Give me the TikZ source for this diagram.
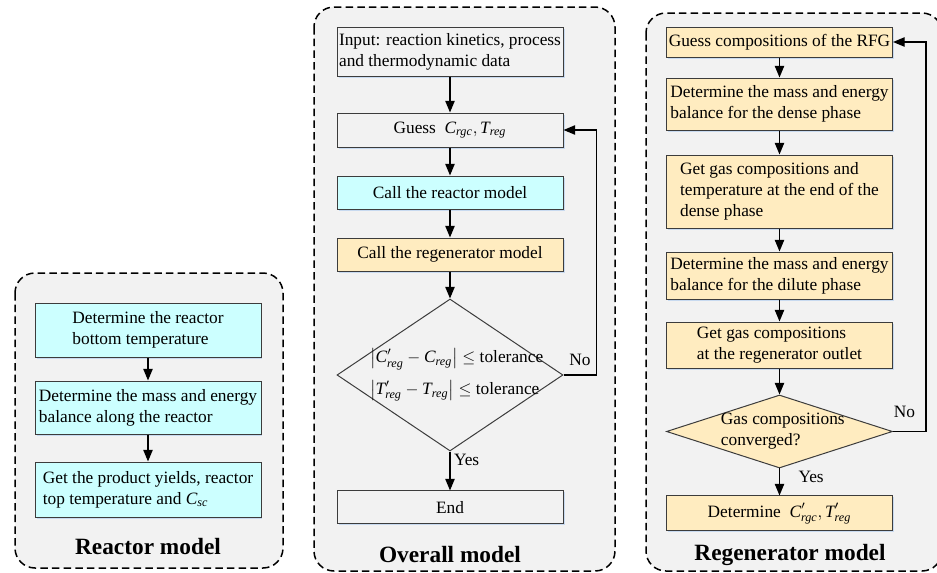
\documentclass[tikz,border=0pt]{standalone}
\usepackage{amsmath}
\usepackage{fontspec}
\setmainfont{Liberation Serif}
\usetikzlibrary{
  arrows.meta,
  positioning,
  shapes.geometric,
  shadows
}
\definecolor{PanelGray}{RGB}{242,242,242}
\definecolor{ReactorCyan}{RGB}{204,255,255}
\definecolor{RegenYellow}{RGB}{255,236,192}
\definecolor{ShadowBlue}{RGB}{200,218,240}
\definecolor{EdgeGray}{RGB}{60,60,60}
\newcommand{\bodyfont}{\fontsize{10.4}{12.7}\selectfont}
\newcommand{\titlefont}{\fontsize{14}{16}\selectfont\bfseries}
\tikzset{
  panel/.style={draw=black,fill=PanelGray,dash pattern=on 4.5pt off 2.5pt,line width=0.9pt,rounded corners=12pt},
  flowbox/.style={draw=EdgeGray,line width=0.6pt,align=left,inner sep=0pt,minimum width=135.6pt,font=\bodyfont,drop shadow={shadow xshift=0.9pt,shadow yshift=-0.9pt,fill=ShadowBlue,opacity=1}},
  plainbox/.style={flowbox,fill=PanelGray},
  reactbox/.style={flowbox,fill=ReactorCyan},
  regenbox/.style={flowbox,fill=RegenYellow},
  decision/.style={diamond,draw=EdgeGray,line width=0.6pt,inner sep=0pt,minimum width=135.6pt},
  flow/.style={-{Triangle[length=7pt,width=5.6pt]},line width=0.8pt},
  branch/.style={font=\bodyfont,inner sep=2pt},
  paneltitle/.style={font=\titlefont}
}

\begin{document}
\begin{tikzpicture}[x=0.6pt,y=-0.6pt]
\useasboundingbox (0,0) rectangle (937,573);
\clip (0,0) rectangle (937,573);

% panels
\draw[panel] (15,273) rectangle (283,568);
\draw[panel] (314,7) rectangle (615,571);
\draw[panel] (646,13) rectangle (942,571);

% reactor model
\node[reactbox, minimum height=32.4pt] (r1) at (148,330) {Determine the reactor\\bottom temperature};
\node[reactbox, minimum height=31.8pt, below=13.8pt of r1] (r2) {Determine the mass and energy\\balance along the reactor};
\node[reactbox, minimum height=33pt, below=16.2pt of r2] (r3) {Get the product yields, reactor\\top temperature and $\textit{C}_{\textit{sc}}$};
\node[paneltitle] (rtitle) at (148,547) {Reactor model};

\draw[flow] (r1) -- (r2);
\draw[flow] (r2) -- (r3);

% overall model
\node[plainbox, minimum height=29.4pt] (o1) at (450,51.5) {Input: reaction kinetics, process\\and thermodynamic data};
\node[plainbox, minimum height=20.4pt, below=21.6pt of o1] (o2) {Guess\ \ $\textit{C}_{\textit{rgc}},\textit{T}_{\textit{reg}}$};
\node[reactbox, minimum height=19.8pt, below=16.8pt of o2] (o3) {Call the reactor model};
\node[regenbox, minimum height=19.8pt, below=16.8pt of o3] (o4) {Call the regenerator model};
\node[decision, minimum height=91.2pt, below=16.2pt of o4] (o5) {};
\node[font=\fontsize{10.4}{19}\selectfont, align=left, xshift=4pt] (o5text) at (o5) {$\left|\textit{C}^{\prime}_{\textit{reg}}-\textit{C}_{\textit{reg}}\right|\le$ tolerance\\$\left|\textit{T}^{\prime}_{\textit{reg}}-\textit{T}_{\textit{reg}}\right|\le$ tolerance};
\node[plainbox, minimum height=19.8pt, below=23.4pt of o5] (o6) {End};
\node[paneltitle] (otitle) at (450,555) {Overall model};

\draw[flow] (o1) -- (o2);
\draw[flow] (o2) -- (o3);
\draw[flow] (o3) -- (o4);
\draw[flow] (o4) -- (o5);
\draw[flow] (o5) -- node[branch, right, pos=0.22] {Yes} (o6);
\draw[flow] (o5.east) -- node[branch, above=3pt] {No} ++(33,0) |- (o2.east);

% regenerator model
\node[regenbox, minimum height=18pt] (g1) at (779.5,42) {Guess compositions of the RFG};
\node[regenbox, minimum height=31.2pt, below=12pt of g1] (g2) {Determine the mass and energy\\balance for the dense phase};
\node[regenbox, minimum height=43.8pt, below=14.4pt of g2] (g3) {Get gas compositions and\\temperature at the end of the\\dense phase};
\node[regenbox, minimum height=28.2pt, below=13.8pt of g3] (g4) {Determine the mass and energy\\balance for the dilute phase};
\node[regenbox, minimum height=28.2pt, below=13.2pt of g4] (g5) {Get gas compositions\\at the regenerator outlet};
\node[decision, fill=RegenYellow, minimum height=43.8pt, below=15pt of g5] (g6) {};
\node[font=\bodyfont, align=left, xshift=2pt] (g6text) at (g6) {Gas compositions\\converged?};
\node[regenbox, minimum height=21pt, below=16.2pt of g6] (g7) {Determine\ \ $\textit{C}^{\prime}_{\textit{rgc}},\textit{T}^{\prime}_{\textit{reg}}$};
\node[paneltitle] (gtitle) at (790,555) {Regenerator model};

\draw[flow] (g1) -- (g2);
\draw[flow] (g2) -- (g3);
\draw[flow] (g3) -- (g4);
\draw[flow] (g4) -- (g5);
\draw[flow] (g5) -- (g6);
\draw[flow] (g6) -- node[branch, right=9pt, pos=0.3] {Yes} (g7);
\draw[flow] (g6.east) -- node[branch, above=6pt, pos=0.35] {No} ++(33,0) |- (g1.east);
\end{tikzpicture}
\end{document}
